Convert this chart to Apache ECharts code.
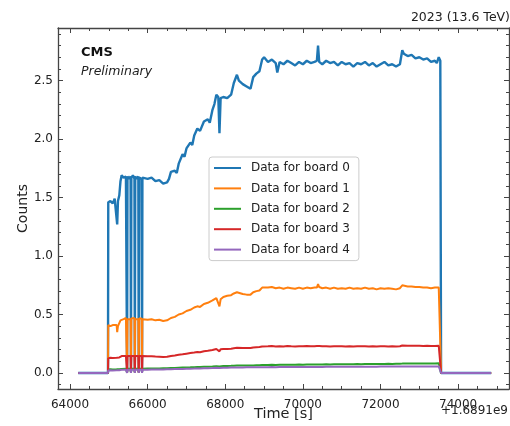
<!DOCTYPE html>
<html>
<head>
<meta charset="utf-8">
<script src="https://cdn.jsdelivr.net/npm/echarts@6.0.0/dist/echarts.min.js"></script>
<style>
html, body { margin: 0; padding: 0; background: #fff; }
#chart { width: 510px; height: 426px; }
</style>
</head>
<body>
<div id="chart"></div>
<script>
// Time offsets in seconds (axis offset +1.6891e9)
const times = [
  64210, 64978, 64985, 65040, 65100, 65150, 65200, 65215, 65235, 65270,
  65300, 65330, 65380, 65440, 65460, 65470, 65480, 65520, 65560, 65570,
  65580, 65620, 65660, 65670, 65680, 65720, 65760, 65770, 65780, 65810,
  65845, 65855, 65865, 65900, 66000, 66100, 66200, 66300, 66400, 66500,
  66550, 66600, 66700, 66750, 66800, 66900, 66950, 67000, 67100, 67150,
  67200, 67280, 67350, 67450, 67550, 67600, 67670, 67720, 67770, 67820,
  67850, 67880, 67950, 68050, 68150, 68220, 68300, 68350, 68450, 68550,
  68650, 68720, 68800, 68880, 68950, 69000, 69100, 69200, 69300, 69340,
  69400, 69500, 69600, 69700, 69800, 69900, 70000, 70100, 70200, 70300,
  70360, 70390, 70420, 70500, 70600, 70700, 70800, 70900, 71000, 71100,
  71200, 71300, 71400, 71500, 71600, 71700, 71800, 71900, 72000, 72100,
  72200, 72300, 72400, 72500, 72540, 72560, 72600, 72700, 72800, 72900,
  73000, 73100, 73200, 73300, 73400, 73450, 73500, 73540, 73560, 74850
];

const board0 = [
  0, 0, 1.46, 1.47, 1.45, 1.49, 1.48, 1.27, 1.47, 1.52,
  1.64, 1.69, 1.67, 1.68, 1.67, 0.01, 1.68, 1.66, 1.68, 0.01,
  1.67, 1.69, 1.66, 0.01, 1.68, 1.66, 1.68, 0.01, 1.67, 1.68,
  1.66, 0.01, 1.67, 1.68, 1.66, 1.67, 1.64, 1.65, 1.62, 1.63,
  1.66, 1.72, 1.73, 1.71, 1.79, 1.87, 1.85, 1.92, 1.97, 1.95,
  2.03, 2.09, 2.07, 2.15, 2.17, 2.14, 2.25, 2.30, 2.38, 2.36,
  2.05, 2.35, 2.36, 2.35, 2.38, 2.48, 2.55, 2.50, 2.47, 2.45,
  2.43, 2.53, 2.56, 2.58, 2.68, 2.70, 2.66, 2.68, 2.65, 2.57,
  2.66, 2.64, 2.67, 2.65, 2.63, 2.66, 2.64, 2.67, 2.65, 2.66,
  2.67, 2.80, 2.66, 2.64, 2.67, 2.65, 2.66, 2.63, 2.66, 2.64,
  2.65, 2.62, 2.65, 2.64, 2.66, 2.63, 2.65, 2.62, 2.64, 2.66,
  2.63, 2.64, 2.62, 2.64, 2.63, 2.76, 2.73, 2.71, 2.72, 2.69,
  2.70, 2.68, 2.69, 2.66, 2.67, 2.65, 2.70, 2.67, 0, 0
];

const board1 = [
  0, 0, 0.41, 0.40, 0.41, 0.40, 0.41, 0.35, 0.40, 0.41,
  0.45, 0.46, 0.46, 0.47, 0.46, 0.01, 0.46, 0.465, 0.46, 0.01,
  0.465, 0.46, 0.47, 0.01, 0.46, 0.465, 0.46, 0.01, 0.465, 0.46,
  0.465, 0.01, 0.46, 0.46, 0.455, 0.46, 0.45, 0.455, 0.445, 0.45,
  0.46, 0.47, 0.48, 0.475, 0.50, 0.51, 0.505, 0.53, 0.54, 0.535,
  0.56, 0.57, 0.565, 0.59, 0.60, 0.59, 0.62, 0.63, 0.64, 0.635,
  0.57, 0.63, 0.65, 0.66, 0.665, 0.68, 0.69, 0.68, 0.675, 0.67,
  0.67, 0.69, 0.70, 0.705, 0.73, 0.74, 0.73, 0.735, 0.725, 0.71,
  0.73, 0.72, 0.73, 0.725, 0.72, 0.73, 0.72, 0.73, 0.725, 0.73,
  0.73, 0.76, 0.735, 0.725, 0.73, 0.72, 0.73, 0.72, 0.725, 0.72,
  0.73, 0.72, 0.725, 0.72, 0.73, 0.72, 0.725, 0.715, 0.725, 0.72,
  0.725, 0.72, 0.715, 0.725, 0.72, 0.75, 0.745, 0.74, 0.74, 0.735,
  0.735, 0.73, 0.73, 0.725, 0.73, 0.725, 0.73, 0.725, 0, 0
];

const board2 = [
  0, 0, 0.030, 0.031, 0.030, 0.031, 0.031, 0.029, 0.031, 0.032,
  0.034, 0.035, 0.036, 0.036, 0.036, 0.003, 0.036, 0.036, 0.037, 0.003,
  0.037, 0.037, 0.037, 0.003, 0.037, 0.037, 0.037, 0.003, 0.037, 0.037,
  0.037, 0.003, 0.037, 0.037, 0.038, 0.038, 0.039, 0.039, 0.040, 0.040,
  0.041, 0.042, 0.043, 0.043, 0.045, 0.046, 0.046, 0.047, 0.048, 0.048,
  0.050, 0.051, 0.051, 0.053, 0.054, 0.054, 0.056, 0.057, 0.058, 0.058,
  0.055, 0.058, 0.059, 0.060, 0.061, 0.062, 0.063, 0.063, 0.063, 0.064,
  0.064, 0.065, 0.066, 0.066, 0.068, 0.069, 0.069, 0.070, 0.069, 0.068,
  0.070, 0.070, 0.071, 0.070, 0.071, 0.072, 0.071, 0.072, 0.072, 0.073,
  0.073, 0.075, 0.073, 0.073, 0.074, 0.073, 0.074, 0.074, 0.075, 0.074,
  0.075, 0.075, 0.076, 0.075, 0.076, 0.076, 0.077, 0.076, 0.077, 0.077,
  0.078, 0.077, 0.078, 0.078, 0.078, 0.080, 0.080, 0.080, 0.081, 0.080,
  0.081, 0.081, 0.082, 0.081, 0.082, 0.082, 0.083, 0.082, 0, 0
];

const board3 = [
  0, 0, 0.125, 0.130, 0.128, 0.132, 0.130, 0.120, 0.130, 0.133,
  0.140, 0.145, 0.144, 0.146, 0.145, 0.005, 0.145, 0.146, 0.145, 0.005,
  0.146, 0.145, 0.146, 0.005, 0.145, 0.146, 0.145, 0.005, 0.146, 0.145,
  0.146, 0.005, 0.145, 0.145, 0.143, 0.142, 0.140, 0.139, 0.137, 0.138,
  0.142, 0.146, 0.150, 0.149, 0.156, 0.160, 0.159, 0.165, 0.170, 0.168,
  0.175, 0.180, 0.178, 0.186, 0.190, 0.188, 0.196, 0.200, 0.205, 0.204,
  0.185, 0.203, 0.205, 0.206, 0.208, 0.212, 0.215, 0.214, 0.213, 0.214,
  0.213, 0.218, 0.220, 0.222, 0.226, 0.229, 0.228, 0.230, 0.227, 0.222,
  0.229, 0.227, 0.230, 0.228, 0.227, 0.229, 0.228, 0.230, 0.228, 0.229,
  0.230, 0.238, 0.230, 0.228, 0.229, 0.227, 0.229, 0.228, 0.229, 0.227,
  0.229, 0.227, 0.228, 0.228, 0.229, 0.227, 0.228, 0.226, 0.228, 0.229,
  0.227, 0.228, 0.226, 0.228, 0.227, 0.235, 0.234, 0.233, 0.233, 0.232,
  0.232, 0.231, 0.232, 0.230, 0.231, 0.230, 0.232, 0.231, 0, 0
];

const board4 = [
  0, 0, 0.022, 0.023, 0.022, 0.023, 0.023, 0.021, 0.023, 0.024,
  0.026, 0.027, 0.027, 0.028, 0.027, 0, 0.027, 0.028, 0.027, 0,
  0.028, 0.027, 0.028, 0, 0.027, 0.028, 0.027, 0, 0.028, 0.027,
  0.028, 0, 0.028, 0.028, 0.028, 0.029, 0.029, 0.030, 0.030, 0.031,
  0.031, 0.032, 0.033, 0.033, 0.034, 0.035, 0.035, 0.036, 0.037, 0.037,
  0.038, 0.039, 0.039, 0.040, 0.041, 0.041, 0.042, 0.043, 0.044, 0.044,
  0.042, 0.044, 0.045, 0.045, 0.046, 0.046, 0.047, 0.047, 0.047, 0.048,
  0.048, 0.048, 0.049, 0.049, 0.050, 0.050, 0.050, 0.051, 0.050, 0.049,
  0.051, 0.051, 0.051, 0.051, 0.051, 0.052, 0.052, 0.052, 0.052, 0.052,
  0.052, 0.054, 0.052, 0.052, 0.053, 0.053, 0.053, 0.053, 0.053, 0.053,
  0.054, 0.053, 0.054, 0.054, 0.054, 0.054, 0.054, 0.054, 0.055, 0.055,
  0.055, 0.055, 0.055, 0.055, 0.055, 0.056, 0.056, 0.056, 0.056, 0.056,
  0.056, 0.056, 0.056, 0.056, 0.056, 0.056, 0.056, 0.056, 0, 0
];

const seriesNames = ['Data for board 0', 'Data for board 1', 'Data for board 2', 'Data for board 3', 'Data for board 4'];
const seriesValues = [board0, board1, board2, board3, board4];
const colors = ['#1f77b4', '#ff7f0e', '#2ca02c', '#d62728', '#9467bd'];
const lineWidths = [2.4, 2, 2, 2, 2];

const FONT = "'DejaVu Sans', 'Noto Sans', sans-serif";
const axisColor = '#444';

const xRange = { min: 63690, max: 75310 };
const yRange = { min: -0.137, max: 2.95 };

function xAxisCfg(pos, showLabel) {
  return {
    type: 'value', position: pos, gridIndex: 0,
    min: xRange.min, max: xRange.max,
    splitNumber: 5, minInterval: 2000, maxInterval: 2000,
    axisLine: { show: true, onZero: false, lineStyle: { color: axisColor, width: 1.3 } },
    axisTick: { show: true, inside: true, length: 5, lineStyle: { color: axisColor, width: 1 } },
    minorTick: { show: true, splitNumber: 4, length: 3, lineStyle: { color: axisColor, width: 1 } },
    splitLine: { show: false },
    axisLabel: {
      show: showLabel, margin: 10, fontSize: 12, color: '#222', fontFamily: FONT,
      formatter: v => (Math.abs(v % 2000) < 1e-6 ? String(v) : '')
    },
    name: showLabel ? 'Time [s]' : '',
    nameLocation: 'middle', nameGap: 18, nameMoveOverlap: false,
    nameTextStyle: { fontSize: 14.5, color: '#222', fontFamily: FONT }
  };
}

function yAxisCfg(pos, showLabel) {
  return {
    type: 'value', position: pos, gridIndex: 0,
    min: yRange.min, max: yRange.max,
    splitNumber: 6, minInterval: 0.5, maxInterval: 0.5,
    axisLine: { show: true, onZero: false, lineStyle: { color: axisColor, width: 1.3 } },
    axisTick: { show: true, inside: true, length: 5, lineStyle: { color: axisColor, width: 1 } },
    minorTick: { show: true, splitNumber: 5, length: 3, lineStyle: { color: axisColor, width: 1 } },
    splitLine: { show: false },
    axisLabel: {
      show: showLabel, margin: 5, fontSize: 12, color: '#222', fontFamily: FONT,
      formatter: v => {
        const r = Math.round(v * 2) / 2;
        return Math.abs(v - r) < 1e-6 ? Math.abs(r).toFixed(1) : '';
      }
    },
    name: showLabel ? 'Counts' : '',
    nameLocation: 'middle', nameGap: 28, nameMoveOverlap: false,
    nameTextStyle: { fontSize: 14, color: '#222', fontFamily: FONT }
  };
}

const series = seriesNames.map((name, i) => ({
  name: name,
  type: 'line',
  xAxisIndex: 0,
  yAxisIndex: 0,
  symbol: 'none',
  showSymbol: false,
  clip: true,
  lineStyle: { width: lineWidths[i], color: colors[i] },
  itemStyle: { color: colors[i] },
  data: times.map((t, k) => [t, seriesValues[i][k]])
}));

const chart = echarts.init(document.getElementById('chart'), null, { renderer: 'canvas' });
chart.setOption({
  animation: false,
  backgroundColor: '#fff',
  grid: { left: 58, right: 1, top: 28, bottom: 37, containLabel: false, outerBoundsMode: 'none' },
  xAxis: [xAxisCfg('bottom', true), xAxisCfg('top', false)],
  yAxis: [yAxisCfg('left', true), yAxisCfg('right', false)],
  legend: {
    orient: 'vertical',
    left: 209, top: 157,
    padding: [5, 9, 5, 4],
    itemWidth: 27, itemHeight: 12, itemGap: 8.4,
    backgroundColor: 'rgba(255,255,255,0.85)',
    borderColor: '#cccccc', borderWidth: 1, borderRadius: 3,
    itemStyle: { opacity: 0, borderWidth: 0 },
    lineStyle: { width: 2 },
    textStyle: { fontSize: 12, color: '#222', fontFamily: FONT, padding: [0, 0, 0, 5] },
    data: seriesNames
  },
  graphic: [
    { type: 'text', right: 0, top: 11, style: { text: '2023 (13.6 TeV)', font: "12.5px 'DejaVu Sans'", fill: '#222' } },
    { type: 'text', left: 81, top: 46, style: { text: 'CMS', font: "bold 13px 'DejaVu Sans'", fill: '#111' } },
    { type: 'text', left: 81, top: 65, style: { text: 'Preliminary', font: "italic 12.5px 'DejaVu Sans'", fill: '#222' } },
    { type: 'text', right: 2, top: 405, style: { text: '+1.6891e9', font: "12px 'DejaVu Sans'", fill: '#222' } }
  ],
  series: series
});
</script>
</body>
</html>
